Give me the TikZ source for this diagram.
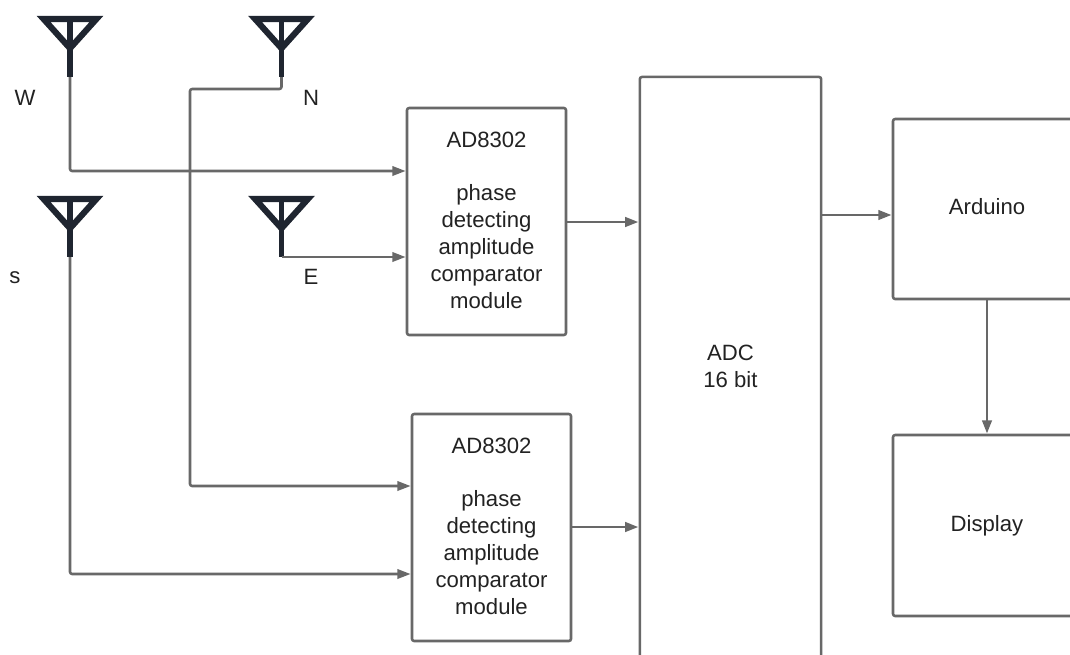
\documentclass[tikz,border=0pt]{standalone}
\usepackage{fontspec}
\setmainfont{Liberation Sans}
\usetikzlibrary{arrows.meta}
\definecolor{linegrey}{HTML}{686868}
\definecolor{antdark}{HTML}{1F2530}
\definecolor{txt}{HTML}{222222}
\tikzset{
  box/.style={draw=linegrey,line width=1.9pt,rounded corners=1.6pt,outer sep=0pt,inner sep=0pt,align=center,text=txt,font=\fontsize{16.6}{20.2}\selectfont},
  lab/.style={text=txt,font=\fontsize{16.6}{20.2}\selectfont,inner sep=0pt},
  conn/.style={draw=linegrey,line width=1.9pt,rounded corners=1.6pt},
  arr/.style={conn,-{Triangle[length=10pt,width=7pt]},shorten >=1pt},
  thickarr/.style={arr,line width=2.2pt},
  ant/.pic={
    \draw[antdark,line width=4.6pt,miter limit=10,line join=miter] (-26.4,-58) -- (26.4,-58) -- (0,-28.7) -- cycle;
    \draw[antdark,line width=4.2pt] (0,-58) -- (0,0);
  }
}
\begin{document}
\begin{tikzpicture}[x=0.75pt,y=-0.75pt]
\useasboundingbox (0,0) rectangle (1070,654);
\clip (0,0) rectangle (1070,654);
\fill[white] (0,0) rectangle (1070,654);

\coordinate (footW) at (70,77);
\coordinate (footN) at (281.5,77);
\coordinate (footS) at (70,257);
\coordinate (footE) at (281.5,257);
\pic at (footW) {ant};
\pic at (footN) {ant};
\pic at (footS) {ant};
\pic at (footE) {ant};

\node[lab] (lw) at (25,98) {W};
\node[lab] (ln) at (311,98) {N};
\node[lab] (ls) at (15,278) {s};
\node[lab] (le) at (311,277) {E};

\node[box,minimum width=119.25pt,minimum height=170.25pt] (amp1) at (486.5,221.5)
  {AD8302\\[20.2pt]phase\\detecting\\amplitude\\comparator\\module\rule[-2pt]{0pt}{0pt}};
\node[box,minimum width=119.25pt,minimum height=170.25pt] (amp2) at (491.5,527.5)
  {AD8302\\[20.2pt]phase\\detecting\\amplitude\\comparator\\module\rule[-2pt]{0pt}{0pt}};
\node[box,minimum width=136pt,minimum height=437pt] (adc) at (730.5,368.3) {ADC\\16 bit\rule[-3.4pt]{0pt}{0pt}};
\node[box,minimum width=141pt,minimum height=135pt] (ard) at (987,209) {\raisebox{4.5pt}{Arduino}};
\node[box,minimum width=141pt,minimum height=135.75pt] (disp) at (987,525.5) {\raisebox{1.5pt}{Display}};

\coordinate (inW) at (amp1.west |- 0,171);
\coordinate (inE) at (amp1.west |- 0,257);
\coordinate (inN) at (amp2.west |- 0,486);
\coordinate (inS) at (amp2.west |- 0,574);
\coordinate (bendN1) at (281.5,89);
\coordinate (bendN2) at (190,89);

\draw[arr] (footW) |- (inW);
\draw[arr] (footE) -- (inE);
\draw[arr] (footN) -- (bendN1) -- (bendN2) |- (inN);
\draw[arr] (footS) |- (inS);
\draw[thickarr] (amp1.east |- 0,222) -- (adc.west |- 0,222);
\draw[thickarr] (amp2.east |- 0,527) -- (adc.west |- 0,527);
\draw[thickarr] (adc.east |- 0,215) -- (ard.west |- 0,215);
\draw[thickarr] (ard.south) -- (disp.north);
\end{tikzpicture}
\end{document}
